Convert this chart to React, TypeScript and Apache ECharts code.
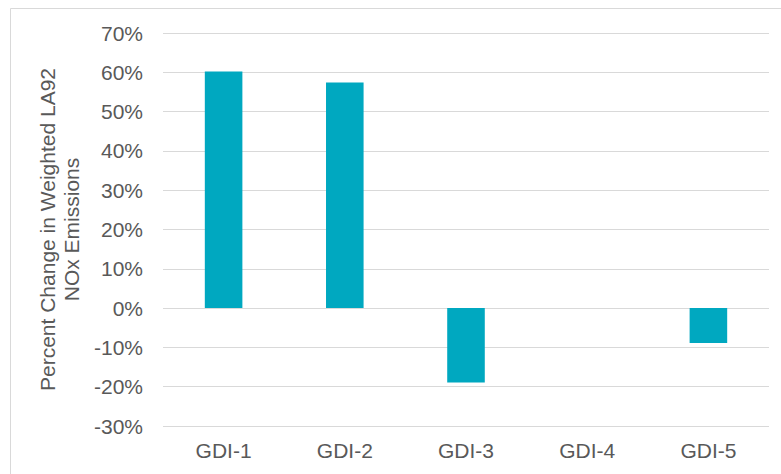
import React, { useEffect, useRef } from "react";
import * as echarts from "echarts";

const categories = ["GDI-1", "GDI-2", "GDI-3", "GDI-4", "GDI-5"];
const values = [60.2, 57.4, -18.9, 0, -8.9];
const yMin = -30;
const yMax = 70;
const yStep = 10;
const yTitle = "Percent Change in Weighted LA92\nNOx Emissions";

export default function App() {
  const ref = useRef<HTMLDivElement>(null);
  useEffect(() => {
    if (!ref.current) return;
    const chart = echarts.init(ref.current, null, { renderer: "svg" });
    const font = "Liberation Sans, Arial, sans-serif";
    chart.setOption({
      animation: false,
      backgroundColor: "#ffffff",
      graphic: [
        {
          type: "rect",
          shape: { x: 10.5, y: 8.5, width: 800, height: 500 },
          style: { fill: "none", stroke: "#d9d9d9", lineWidth: 1 },
          silent: true,
        },
      ],
      grid: { left: 163, right: 12, top: 33, bottom: 48, containLabel: false },
      xAxis: {
        type: "category",
        data: categories,
        axisLine: { show: false },
        axisTick: { show: false },
        axisLabel: { color: "#595959", fontSize: 21, fontFamily: font, margin: 14, interval: 0 },
      },
      yAxis: {
        type: "value",
        min: yMin,
        max: yMax,
        interval: yStep,
        name: yTitle,
        nameLocation: "middle",
        nameRotate: 90,
        nameGap: 103,
        nameTextStyle: {
          color: "#595959",
          fontSize: 21,
          fontFamily: font,
          lineHeight: 24,
          align: "center",
          verticalAlign: "middle",
        },
        axisLine: { show: false },
        axisTick: { show: false },
        axisLabel: { color: "#595959", fontSize: 21, fontFamily: font, margin: 20, formatter: "{value}%" },
        splitLine: { lineStyle: { color: "#d9d9d9", width: 1 } },
      },
      series: [
        {
          type: "bar",
          data: values,
          barWidth: "31%",
          itemStyle: { color: "#00A8C0" },
        },
      ],
    });
    return () => chart.dispose();
  }, []);
  return (
    <div
      ref={ref}
      style={{ position: "fixed", left: 0, top: 0, width: 781, height: 474 }}
    />
  );
}
